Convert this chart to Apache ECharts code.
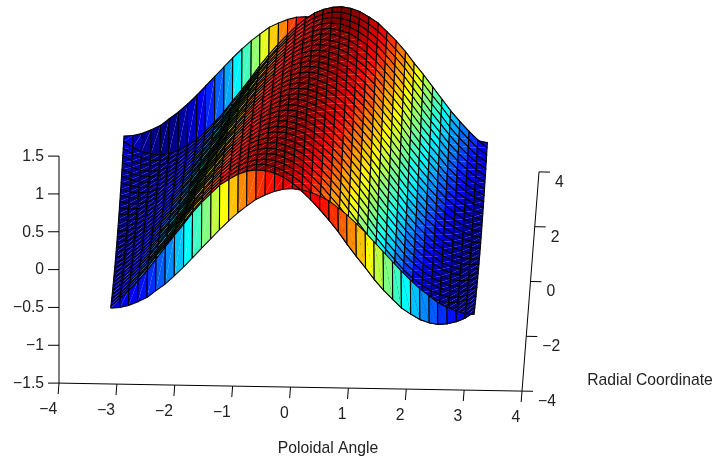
<!DOCTYPE html>
<html>
<head>
<meta charset="utf-8">
<title>Surface</title>
<script src="https://cdn.jsdelivr.net/npm/echarts@6/dist/echarts.min.js"></script>
<style>
  html, body { margin: 0; background: #fff; }
  #main { width: 715px; height: 462px; }
</style>
</head>
<body>
<div id="main"></div>
<script>
const xTicks = [-4, -3, -2, -1, 0, 1, 2, 3, 4];
const yTicks = [-4, -2, 0, 2, 4];
const zTicks = [-1.5, -1, -0.5, 0, 0.5, 1, 1.5];
const xTitle = 'Poloidal Angle';
const yTitle = 'Radial Coordinate';

// surface nodes (edges and colour bands give the shape)
const poloidal = [-3.14,-2.98,-2.83,-2.67,-2.51,-2.36,-2.2,-2.04,-1.88,-1.73,-1.57,-1.41,-1.26,-1.1,-.94,-.79,-.63,-.47,-.31,-.16,0,.16,.31,.47,.63,.79,.94,1.1,1.26,1.41,1.57,1.73,1.88,2.04,2.2,2.36,2.51,2.67,2.83,2.98,3.14];
const radial = [-3.14,-3,-2.8,-2.6,-2.4,-2.2,-2,-1.8,-1.6,-1.4,-1.2,-1,-.8,-.6,-.4,-.2,0,.2,.4,.6,.8,1,1.2,1.4,1.6,1.8,2,2.2,2.4,2.6,2.8,3,3.14];
const height = [
[-.81,-.8,-.77,-.72,-.66,-.57,-.48,-.37,-.25,-.13,0,.13,.25,.37,.48,.57,.66,.72,.77,.8,.81,.8,.77,.72,.66,.57,.48,.37,.25,.13,0,-.13,-.25,-.37,-.48,-.57,-.66,-.72,-.77,-.8,-.81],
[-.83,-.73,-.62,-.49,-.35,-.2,-.04,.12,.27,.42,.56,.68,.79,.87,.94,.98,1,.99,.96,.91,.83,.73,.62,.49,.35,.2,.04,-.12,-.27,-.42,-.56,-.68,-.79,-.87,-.94,-.98,-1,-.99,-.96,-.91,-.83],
[-.85,-.76,-.65,-.52,-.38,-.23,-.08,.08,.23,.38,.52,.65,.76,.85,.92,.97,1,1,.97,.92,.85,.76,.65,.52,.38,.23,.08,-.08,-.23,-.38,-.52,-.65,-.76,-.85,-.92,-.97,-1,-1,-.97,-.92,-.85],
[-.87,-.79,-.68,-.56,-.42,-.27,-.12,.04,.2,.35,.49,.62,.73,.83,.91,.96,.99,1,.98,.94,.87,.79,.68,.56,.42,.27,.12,-.04,-.2,-.35,-.49,-.62,-.73,-.83,-.91,-.96,-.99,-1,-.98,-.94,-.87],
[-.89,-.81,-.71,-.59,-.45,-.31,-.16,0,.16,.31,.45,.59,.71,.81,.89,.95,.99,1,.99,.95,.89,.81,.71,.59,.45,.31,.16,0,-.16,-.31,-.45,-.59,-.71,-.81,-.89,-.95,-.99,-1,-.99,-.95,-.89],
[-.91,-.83,-.73,-.62,-.49,-.35,-.2,-.04,.12,.27,.42,.56,.68,.79,.87,.94,.98,1,.99,.96,.91,.83,.73,.62,.49,.35,.2,.04,-.12,-.27,-.42,-.56,-.68,-.79,-.87,-.94,-.98,-1,-.99,-.96,-.91],
[-.92,-.85,-.76,-.65,-.52,-.38,-.23,-.08,.08,.23,.38,.52,.65,.76,.85,.92,.97,1,1,.97,.92,.85,.76,.65,.52,.38,.23,.08,-.08,-.23,-.38,-.52,-.65,-.76,-.85,-.92,-.97,-1,-1,-.97,-.92],
[-.94,-.87,-.79,-.68,-.56,-.42,-.27,-.12,.04,.2,.35,.49,.62,.73,.83,.91,.96,.99,1,.98,.94,.87,.79,.68,.56,.42,.27,.12,-.04,-.2,-.35,-.49,-.62,-.73,-.83,-.91,-.96,-.99,-1,-.98,-.94],
[-.95,-.89,-.81,-.71,-.59,-.45,-.31,-.16,0,.16,.31,.45,.59,.71,.81,.89,.95,.99,1,.99,.95,.89,.81,.71,.59,.45,.31,.16,0,-.16,-.31,-.45,-.59,-.71,-.81,-.89,-.95,-.99,-1,-.99,-.95],
[-.96,-.91,-.83,-.73,-.62,-.49,-.35,-.2,-.04,.12,.27,.42,.56,.68,.79,.87,.94,.98,1,.99,.96,.91,.83,.73,.62,.49,.35,.2,.04,-.12,-.27,-.42,-.56,-.68,-.79,-.87,-.94,-.98,-1,-.99,-.96],
[-.97,-.92,-.85,-.76,-.65,-.52,-.38,-.23,-.08,.08,.23,.38,.52,.65,.76,.85,.92,.97,1,1,.97,.92,.85,.76,.65,.52,.38,.23,.08,-.08,-.23,-.38,-.52,-.65,-.76,-.85,-.92,-.97,-1,-1,-.97],
[-.98,-.94,-.87,-.79,-.68,-.56,-.42,-.27,-.12,.04,.2,.35,.49,.62,.73,.83,.91,.96,.99,1,.98,.94,.87,.79,.68,.56,.42,.27,.12,-.04,-.2,-.35,-.49,-.62,-.73,-.83,-.91,-.96,-.99,-1,-.98],
[-.99,-.95,-.89,-.81,-.71,-.59,-.45,-.31,-.16,0,.16,.31,.45,.59,.71,.81,.89,.95,.99,1,.99,.95,.89,.81,.71,.59,.45,.31,.16,0,-.16,-.31,-.45,-.59,-.71,-.81,-.89,-.95,-.99,-1,-.99],
[-.99,-.96,-.91,-.83,-.73,-.62,-.49,-.35,-.2,-.04,.12,.27,.42,.56,.68,.79,.87,.94,.98,1,.99,.96,.91,.83,.73,.62,.49,.35,.2,.04,-.12,-.27,-.42,-.56,-.68,-.79,-.87,-.94,-.98,-1,-.99],
[-1,-.97,-.92,-.85,-.76,-.65,-.52,-.38,-.23,-.08,.08,.23,.38,.52,.65,.76,.85,.92,.97,1,1,.97,.92,.85,.76,.65,.52,.38,.23,.08,-.08,-.23,-.38,-.52,-.65,-.76,-.85,-.92,-.97,-1,-1],
[-1,-.98,-.94,-.87,-.79,-.68,-.56,-.42,-.27,-.12,.04,.2,.35,.49,.62,.73,.83,.91,.96,.99,1,.98,.94,.87,.79,.68,.56,.42,.27,.12,-.04,-.2,-.35,-.49,-.62,-.73,-.83,-.91,-.96,-.99,-1],
[-1,-.99,-.95,-.89,-.81,-.71,-.59,-.45,-.31,-.16,0,.16,.31,.45,.59,.71,.81,.89,.95,.99,1,.99,.95,.89,.81,.71,.59,.45,.31,.16,0,-.16,-.31,-.45,-.59,-.71,-.81,-.89,-.95,-.99,-1],
[-1,-.99,-.96,-.91,-.83,-.73,-.62,-.49,-.35,-.2,-.04,.12,.27,.42,.56,.68,.79,.87,.94,.98,1,.99,.96,.91,.83,.73,.62,.49,.35,.2,.04,-.12,-.27,-.42,-.56,-.68,-.79,-.87,-.94,-.98,-1],
[-1,-1,-.97,-.92,-.85,-.76,-.65,-.52,-.38,-.23,-.08,.08,.23,.38,.52,.65,.76,.85,.92,.97,1,1,.97,.92,.85,.76,.65,.52,.38,.23,.08,-.08,-.23,-.38,-.52,-.65,-.76,-.85,-.92,-.97,-1],
[-.99,-1,-.98,-.94,-.87,-.79,-.68,-.56,-.42,-.27,-.12,.04,.2,.35,.49,.62,.73,.83,.91,.96,.99,1,.98,.94,.87,.79,.68,.56,.42,.27,.12,-.04,-.2,-.35,-.49,-.62,-.73,-.83,-.91,-.96,-.99],
[-.99,-1,-.99,-.95,-.89,-.81,-.71,-.59,-.45,-.31,-.16,0,.16,.31,.45,.59,.71,.81,.89,.95,.99,1,.99,.95,.89,.81,.71,.59,.45,.31,.16,0,-.16,-.31,-.45,-.59,-.71,-.81,-.89,-.95,-.99],
[-.98,-1,-.99,-.96,-.91,-.83,-.73,-.62,-.49,-.35,-.2,-.04,.12,.27,.42,.56,.68,.79,.87,.94,.98,1,.99,.96,.91,.83,.73,.62,.49,.35,.2,.04,-.12,-.27,-.42,-.56,-.68,-.79,-.87,-.94,-.98],
[-.97,-1,-1,-.97,-.92,-.85,-.76,-.65,-.52,-.38,-.23,-.08,.08,.23,.38,.52,.65,.76,.85,.92,.97,1,1,.97,.92,.85,.76,.65,.52,.38,.23,.08,-.08,-.23,-.38,-.52,-.65,-.76,-.85,-.92,-.97],
[-.96,-.99,-1,-.98,-.94,-.87,-.79,-.68,-.56,-.42,-.27,-.12,.04,.2,.35,.49,.62,.73,.83,.91,.96,.99,1,.98,.94,.87,.79,.68,.56,.42,.27,.12,-.04,-.2,-.35,-.49,-.62,-.73,-.83,-.91,-.96],
[-.95,-.99,-1,-.99,-.95,-.89,-.81,-.71,-.59,-.45,-.31,-.16,0,.16,.31,.45,.59,.71,.81,.89,.95,.99,1,.99,.95,.89,.81,.71,.59,.45,.31,.16,0,-.16,-.31,-.45,-.59,-.71,-.81,-.89,-.95],
[-.94,-.98,-1,-.99,-.96,-.91,-.83,-.73,-.62,-.49,-.35,-.2,-.04,.12,.27,.42,.56,.68,.79,.87,.94,.98,1,.99,.96,.91,.83,.73,.62,.49,.35,.2,.04,-.12,-.27,-.42,-.56,-.68,-.79,-.87,-.94],
[-.92,-.97,-1,-1,-.97,-.92,-.85,-.76,-.65,-.52,-.38,-.23,-.08,.08,.23,.38,.52,.65,.76,.85,.92,.97,1,1,.97,.92,.85,.76,.65,.52,.38,.23,.08,-.08,-.23,-.38,-.52,-.65,-.76,-.85,-.92],
[-.91,-.96,-.99,-1,-.98,-.94,-.87,-.79,-.68,-.56,-.42,-.27,-.12,.04,.2,.35,.49,.62,.73,.83,.91,.96,.99,1,.98,.94,.87,.79,.68,.56,.42,.27,.12,-.04,-.2,-.35,-.49,-.62,-.73,-.83,-.91],
[-.89,-.95,-.99,-1,-.99,-.95,-.89,-.81,-.71,-.59,-.45,-.31,-.16,0,.16,.31,.45,.59,.71,.81,.89,.95,.99,1,.99,.95,.89,.81,.71,.59,.45,.31,.16,0,-.16,-.31,-.45,-.59,-.71,-.81,-.89],
[-.87,-.94,-.98,-1,-.99,-.96,-.91,-.83,-.73,-.62,-.49,-.35,-.2,-.04,.12,.27,.42,.56,.68,.79,.87,.94,.98,1,.99,.96,.91,.83,.73,.62,.49,.35,.2,.04,-.12,-.27,-.42,-.56,-.68,-.79,-.87],
[-.85,-.92,-.97,-1,-1,-.97,-.92,-.85,-.76,-.65,-.52,-.38,-.23,-.08,.08,.23,.38,.52,.65,.76,.85,.92,.97,1,1,.97,.92,.85,.76,.65,.52,.38,.23,.08,-.08,-.23,-.38,-.52,-.65,-.76,-.85],
[-.83,-.91,-.96,-.99,-1,-.98,-.94,-.87,-.79,-.68,-.56,-.42,-.27,-.12,.04,.2,.35,.49,.62,.73,.83,.91,.96,.99,1,.98,.94,.87,.79,.68,.56,.42,.27,.12,-.04,-.2,-.35,-.49,-.62,-.73,-.83],
[-.81,-.8,-.77,-.72,-.66,-.57,-.48,-.37,-.25,-.13,0,.13,.25,.37,.48,.57,.66,.72,.77,.8,.81,.8,.77,.72,.66,.57,.48,.37,.25,.13,0,-.13,-.25,-.37,-.48,-.57,-.66,-.72,-.77,-.8,-.81]
];
const jet = ['#000080', '#0000ff', '#0080ff', '#00ffff', '#80ff80', '#ffff00', '#ff8000', '#ff0000', '#800000'];

// fixed camera: where one unit of each data axis lands on the page
const origin = [299, 164];
const unitX = [57.875, 1];
const unitY = [2.125, -27.4];
const unitZ = -75.67;
const fontFamily = '"Liberation Sans", Arial, sans-serif';
const fontSize = 15.7;

function project(x, y, z) {
  return [
    origin[0] + x * unitX[0] + y * unitY[0],
    origin[1] + x * unitX[1] + y * unitY[1] + z * unitZ
  ];
}

function label(v) {
  return String(v).replace('-', '\u2212');
}

function line(api, a, b) {
  const p = api.coord(a), q = api.coord(b);
  return {
    type: 'line',
    shape: { x1: p[0], y1: p[1], x2: q[0], y2: q[1] },
    style: { stroke: '#000', lineWidth: 1 },
    silent: true
  };
}

function text(api, pos, str, align) {
  const p = api.coord(pos);
  return {
    type: 'text',
    style: {
      x: p[0], y: p[1], text: str, fill: '#222',
      fontSize: fontSize, fontFamily: fontFamily,
      align: align, verticalAlign: 'middle'
    },
    silent: true
  };
}

function renderAxes(params, api) {
  const children = [];
  const corner = project(-4, -4, -1.5);
  children.push(line(api, corner, project(4, -4, -1.5)));
  children.push(line(api, project(4, -4, -1.5), project(4, 4, -1.5)));
  children.push(line(api, corner, project(-4, -4, 1.5)));
  zTicks.forEach(function (v) {
    const p = project(-4, -4, v);
    children.push(line(api, p, [p[0] - 11, p[1]]));
    children.push(text(api, [p[0] - 15, p[1] + 0.5], label(v), 'right'));
  });
  xTicks.forEach(function (v) {
    const p = project(v, -4, -1.5);
    const q = project(v, -4.4, -1.5);
    children.push(line(api, p, q));
    children.push(text(api, [q[0] - 1, q[1] + 16], label(v), 'right'));
  });
  yTicks.forEach(function (v) {
    const p = project(4, v, -1.5);
    const q = project(4.19, v, -1.5);
    children.push(line(api, p, q));
    children.push(text(api, [p[0] + 16, p[1] + 10.5], label(v), 'left'));
  });
  children.push(text(api, [328, 449], xTitle, 'center'));
  children.push(text(api, [650, 381], yTitle, 'center'));
  return { type: 'group', children: children };
}

function renderCell(params, api) {
  const i = api.value(0), j = api.value(1);
  const color = api.visual('color');
  const node = function (a, b) {
    return api.coord(project(poloidal[a], radial[b], height[b][a]));
  };
  const p00 = node(i, j), p10 = node(i + 1, j), p11 = node(i + 1, j + 1), p01 = node(i, j + 1);
  return {
    type: 'group',
    children: [
      { type: 'polygon', shape: { points: [p00, p10, p11] }, style: { fill: color }, silent: true },
      { type: 'polygon', shape: { points: [p00, p11, p01] }, style: { fill: color }, silent: true },
      {
        type: 'polyline',
        shape: { points: [p00, p10, p11, p01, p00] },
        style: { fill: 'none', stroke: '#000', lineWidth: 1.05 },
        silent: true
      }
    ]
  };
}

// back rows first so the nearer rows paint over them
const cells = [];
for (let j = radial.length - 2; j >= 0; j--) {
  for (let i = 0; i < poloidal.length - 1; i++) {
    cells.push([i, j, height[j][i]]);
  }
}

const chart = echarts.init(document.getElementById('main'));
chart.setOption({
  animation: false,
  grid: { left: 0, right: 0, top: 0, bottom: 0 },
  xAxis: { type: 'value', min: 0, max: 715, show: false },
  yAxis: { type: 'value', min: 0, max: 462, inverse: true, show: false },
  visualMap: {
    show: false,
    type: 'continuous',
    seriesIndex: 1,
    dimension: 2,
    min: -1,
    max: 1,
    inRange: { color: jet }
  },
  series: [
    { type: 'custom', coordinateSystem: 'cartesian2d', silent: true, clip: false, data: [[0, 0]], renderItem: renderAxes },
    { type: 'custom', coordinateSystem: 'cartesian2d', silent: true, clip: false, data: cells, renderItem: renderCell, progressive: 0 }
  ]
});
</script>
</body>
</html>
